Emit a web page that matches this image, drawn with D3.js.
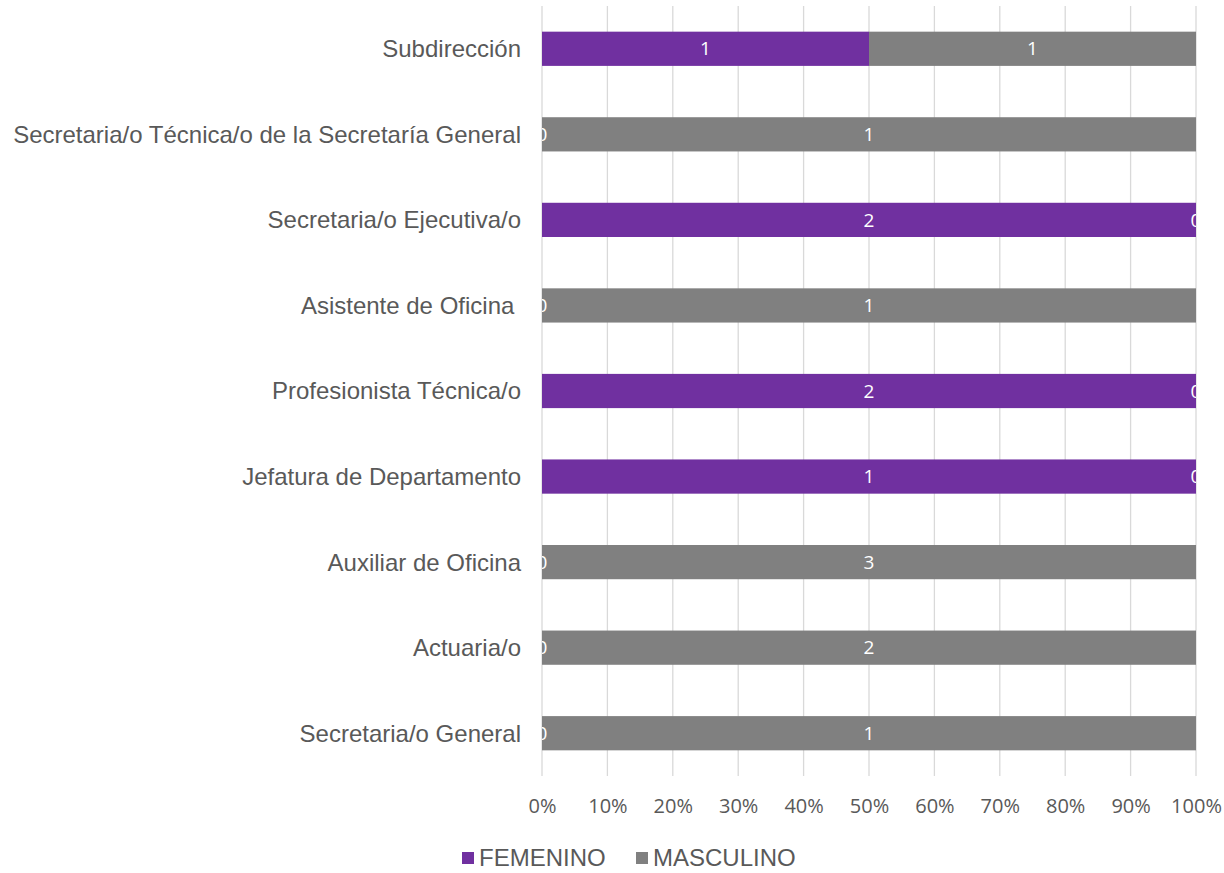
<!DOCTYPE html>
<html><head><meta charset="utf-8">
<script src="https://cdn.jsdelivr.net/npm/d3@7/dist/d3.min.js"></script>
<style>body{margin:0;background:#fff}svg{display:block}text{white-space:pre}</style>
</head><body><svg id="c" width="1224" height="873"></svg>
<script>
const categories = ["Subdirección","Secretaria/o Técnica/o de la Secretaría General","Secretaria/o Ejecutiva/o","Asistente de Oficina ","Profesionista Técnica/o","Jefatura de Departamento","Auxiliar de Oficina","Actuaria/o","Secretaria/o General"];
const femenino = [1,0,2,0,2,1,0,0,0];
const masculino = [1,1,0,1,0,0,3,2,1];
const seriesNames = ["FEMENINO","MASCULINO"];
const colors = ["#7030A0","#808080"];
const ticks = [0,0.1,0.2,0.3,0.4,0.5,0.6,0.7,0.8,0.9,1];

const svg = d3.select("#c");
const x = d3.scaleLinear().domain([0,1]).range([542,1196]);
const y = d3.scaleBand().domain(categories).range([6,776]).paddingInner(0.6).paddingOuter(0.3);

svg.append("defs").append("clipPath").attr("id","pc")
  .append("rect").attr("x",x(0)).attr("y",0).attr("width",x(1)-x(0)).attr("height",873);

// gridlines
svg.append("g").selectAll("line").data(ticks).join("line")
  .attr("x1",d=>x(d)).attr("x2",d=>x(d)).attr("y1",6).attr("y2",776)
  .attr("stroke","#d9d9d9").attr("stroke-width",1.3);

const rows = categories.map((c,i)=>{
  const tot = femenino[i]+masculino[i];
  return {c, segs:[{s:0,v:femenino[i],x0:0,x1:femenino[i]/tot},{s:1,v:masculino[i],x0:femenino[i]/tot,x1:1}]};
});

const g = svg.append("g");
rows.forEach(r=>{
  r.segs.forEach(s=>{
    if (s.x1> s.x0) g.append("rect").attr("x",x(s.x0)).attr("width",x(s.x1)-x(s.x0))
      .attr("y",y(r.c)).attr("height",y.bandwidth()).attr("fill",colors[s.s]);
  });
});
const lg = svg.append("g").attr("clip-path","url(#pc)");
rows.forEach(r=>{
  r.segs.forEach(s=>{
    lg.append("text").attr("x",x((s.x0+s.x1)/2)).attr("y",y(r.c)+y.bandwidth()/2)
      .attr("dy","0.35em").attr("text-anchor","middle").attr("fill","#fff")
      .attr("font-family","'Open Sans'").attr("font-size",19).text(s.v);
  });
});

// category labels
svg.append("g").selectAll("text").data(categories).join("text")
  .attr("x",521).attr("y",d=>y(d)+y.bandwidth()/2).attr("dy","0.35em")
  .attr("text-anchor","end").attr("fill","#595959")
  .attr("font-family","'Liberation Sans',Arial").attr("font-size",24).text(d=>d);

// x axis labels
const xa = svg.append("g").attr("transform","translate(0,806)")
  .call(d3.axisBottom(x).tickValues(ticks).tickFormat(d3.format(".0%")).tickSize(0).tickPadding(0));
xa.select(".domain").remove();
xa.selectAll("text").attr("fill","#595959").attr("font-family","'Open Sans'").attr("font-size",20).attr("dy","0.35em").attr("y",0);

// legend
const legX = [462,636];
const leg = svg.append("g");
seriesNames.forEach((n,i)=>{
  leg.append("rect").attr("x",legX[i]).attr("y",852).attr("width",12).attr("height",12).attr("fill",colors[i]);
  leg.append("text").attr("x",legX[i]+17).attr("y",858).attr("dy","0.35em").attr("fill","#595959")
    .attr("font-family","'Liberation Sans',Arial").attr("font-size",24).text(n);
});
</script></body></html>
